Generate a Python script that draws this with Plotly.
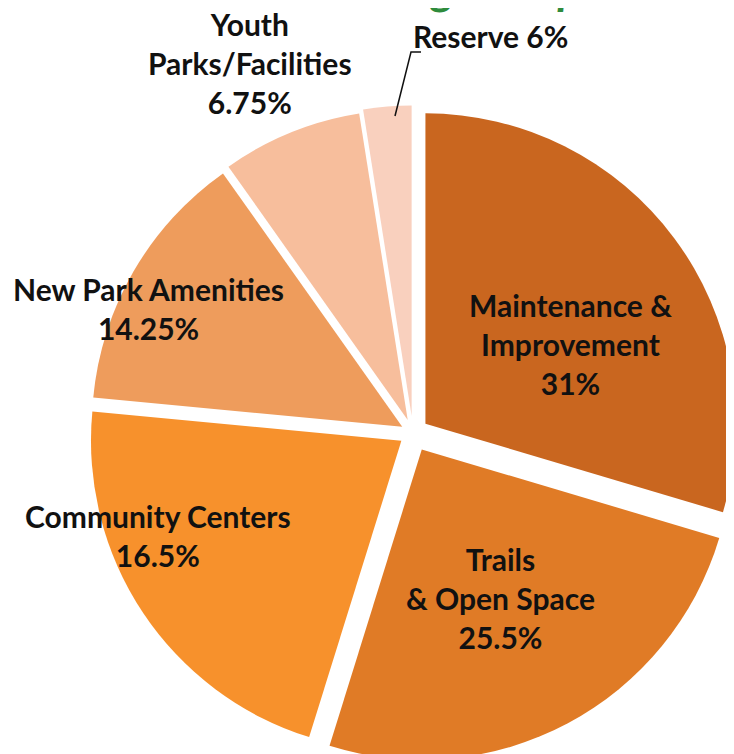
import plotly.graph_objects as go

W, H = 734, 754

categories = ["Maintenance & Improvement", "Trails & Open Space", "Community Centers",
              "New Park Amenities", "Youth Parks/Facilities", "Reserve"]
# slice sizes as drawn in the picture (labels below carry the printed percentages)
shares = [29.6, 25.2, 21.7, 13.7, 7.3, 2.5]
label_text = ["Maintenance &<br>Improvement<br>31%",
              "Trails<br>& Open Space<br>25.5%",
              "Community Centers<br>16.5%",
              "New Park Amenities<br>14.25%",
              "Youth<br>Parks/Facilities<br>6.75%",
              "Reserve 6%"]
colors = ["#C9661F", "#E07B26", "#F7912C", "#EE9C5C", "#F7BE9C", "#F9D0BE"]
pulls = [0.05, 0.06, 0.045, 0.04, 0.045, 0.055]


def px(x, y):
    return x / W, 1 - y / H


fig = go.Figure(go.Pie(
    labels=categories,
    values=shares,
    sort=False,
    direction="clockwise",
    rotation=0,
    pull=pulls,
    textinfo="none",
    hoverinfo="label",
    marker=dict(colors=colors, line=dict(width=0)),
    domain=dict(x=[0.1035, 1.0], y=[0.0, 1 - 96 / H]),
    showlegend=False,
))

font = dict(family="Lato", size=30, color="#111111")
label_pos = [(562, 336), (492, 590), (150, 527), (140, 300), (242, 55), (482, 28)]
for txt, (x, y) in zip(label_text, label_pos):
    ax, ay = px(x, y)
    fig.add_annotation(x=ax, y=ay, xref="paper", yref="paper", xanchor="center", yanchor="middle",
                       text="<b>" + txt + "</b>", showarrow=False, font=font, align="center")

# leader line for the Reserve label
x0, y0 = px(387, 108)
x1, y1 = px(403, 44)
x2, y2 = px(413, 44)
fig.add_shape(type="path", xref="paper", yref="paper",
              path=f"M {x0} {y0} L {x1} {y1} L {x2} {y2}",
              line=dict(color="#111111", width=1.5))

# title sits above the visible area, only its descenders show
fig.add_annotation(x=576 / W, y=1, xref="paper", yref="paper", xanchor="right", yanchor="bottom",
                   yshift=-8, text="<b><i>Funding Recap</i></b>", showarrow=False,
                   font=dict(family="Lato", size=46, color="#2E8B3C"))

fig.update_layout(width=W, height=H, margin=dict(l=0, r=0, t=0, b=0),
                  paper_bgcolor="white", plot_bgcolor="white")
fig.write_html("out.html")
